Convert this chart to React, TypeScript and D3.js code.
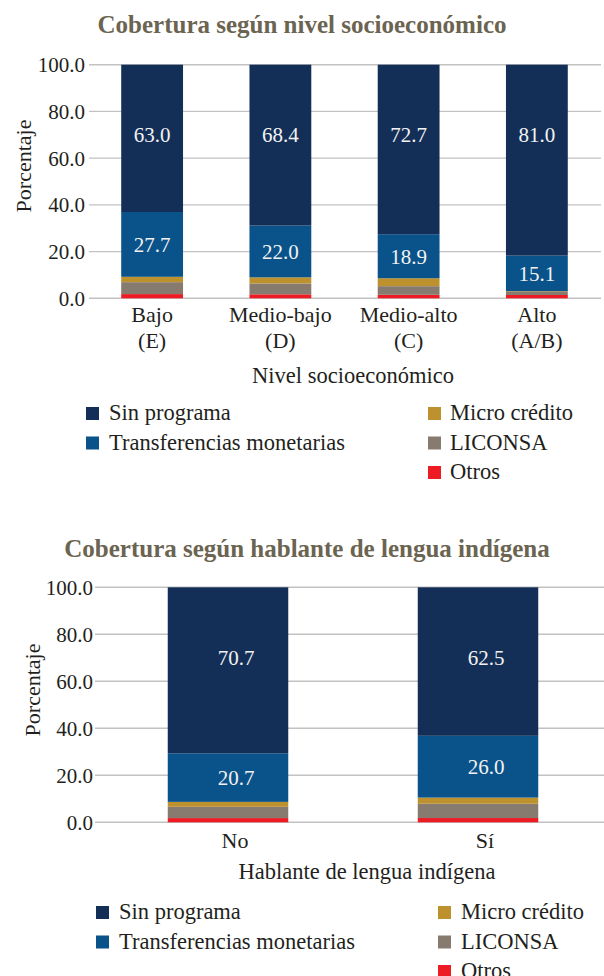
import React from 'react';
import * as d3 from 'd3';

// ---------- data ----------
const seriesKeys = ['otros', 'liconsa', 'micro', 'transfer', 'sin'];
const seriesLabels: Record<string, string> = {
  sin: 'Sin programa',
  transfer: 'Transferencias monetarias',
  micro: 'Micro crédito',
  liconsa: 'LICONSA',
  otros: 'Otros',
};
const seriesColors: Record<string, string> = {
  sin: '#142f57',
  transfer: '#0a528a',
  micro: '#be912f',
  liconsa: '#877b70',
  otros: '#ed1c24',
};

const nseCategories = [['Bajo', '(E)'], ['Medio-bajo', '(D)'], ['Medio-alto', '(C)'], ['Alto', '(A/B)']];
const nseSinPrograma = [63.0, 68.4, 72.7, 81.0];
const nseTransferencias = [27.7, 22.0, 18.9, 15.1];
const nseMicroCredito = [2.3, 2.6, 3.4, 0.3];
const nseLiconsa = [5.1, 4.6, 3.7, 1.3];
const nseOtros = [1.8, 1.7, 1.5, 1.4];

const hliCategories = [['No'], ['Sí']];
const hliSinPrograma = [70.7, 62.5];
const hliTransferencias = [20.7, 26.0];
const hliMicroCredito = [2.1, 2.6];
const hliLiconsa = [4.8, 6.0];
const hliOtros = [1.8, 1.8];

const yTicks = [0, 20, 40, 60, 80, 100];
const labeledKeys = ['sin', 'transfer'];

const FONT = '"Liberation Serif", "Times New Roman", serif';

type Row = { cat: string; [k: string]: any };

function buildRows(cats: string[][], sin: number[], tr: number[], mi: number[], li: number[], ot: number[]): Row[] {
  return cats.map((c, i) => ({ cat: c.join(' '), lines: c, sin: sin[i], transfer: tr[i], micro: mi[i], liconsa: li[i], otros: ot[i] }));
}

type ChartProps = {
  title: string; titleX: number; titleY: number;
  rows: Row[];
  xRange: [number, number]; yRange: [number, number];
  gridX1: number; gridX2: number; tickX: number;
  yTitleX: number; yTitleY: number;
  catY: number; catDx: number; labelDx: number;
  xTitle: string; xTitleX: number; xTitleY: number;
  legLeftX: number; legRightX: number; legTextGapL: number; legTextGapR: number; legRowsY: number[];
};

function StackedChart(p: ChartProps) {
  const x = d3.scaleBand<string>().domain(p.rows.map(r => r.cat)).range(p.xRange).paddingInner(0.518).paddingOuter(0.259);
  const y = d3.scaleLinear().domain([0, 100]).range(p.yRange);
  const stack = d3.stack<Row>().keys(seriesKeys).offset(d3.stackOffsetExpand);
  const layers = stack(p.rows);
  const leftLeg = ['sin', 'transfer'];
  const rightLeg = ['micro', 'liconsa', 'otros'];
  return (
    <g fontFamily={FONT}>
      <text x={p.titleX} y={p.titleY} textAnchor="middle" fontSize={25} fontWeight="bold" fill="#6b6451">{p.title}</text>
      {yTicks.map(t => (
        <g key={t}>
          <line x1={p.gridX1} x2={p.gridX2} y1={y(t)} y2={y(t)} stroke="#c2c2c2" strokeWidth={1.4} />
          <text x={p.tickX} y={y(t) + 7.5} textAnchor="end" fontSize={21} fill="#231f20">{d3.format('.1f')(t)}</text>
        </g>
      ))}
      <text transform={`translate(${p.yTitleX},${p.yTitleY}) rotate(-90)`} textAnchor="middle" dominantBaseline="central" fontSize={22} fill="#231f20">Porcentaje</text>
      {layers.map(layer => (
        <g key={layer.key} fill={seriesColors[layer.key]}>
          {layer.map((d, i) => (
            <rect key={i} x={x(p.rows[i].cat)} width={x.bandwidth()} y={y(d[1] * 100)} height={Math.max(0, y(d[0] * 100) - y(d[1] * 100))} />
          ))}
        </g>
      ))}
      {layers.filter(l => labeledKeys.includes(l.key)).map(layer => (
        <g key={'lab' + layer.key}>
          {layer.map((d, i) => {
            const cx = (x(p.rows[i].cat) as number) + x.bandwidth() / 2 + p.labelDx;
            const v = layer.key === 'sin' ? 0.70 : (d[0] + d[1]) / 2;
            return (
              <text key={i} x={cx} y={y(v * 100)} dy="0.35em" textAnchor="middle" fontSize={21} fill="#f2f2f2">
                {d3.format('.1f')(p.rows[i][layer.key])}
              </text>
            );
          })}
        </g>
      ))}
      {p.rows.map(r => (
        <text key={r.cat} textAnchor="middle" fontSize={22} fill="#231f20">
          {r.lines.map((ln: string, j: number) => (
            <tspan key={j} x={(x(r.cat) as number) + x.bandwidth() / 2 + p.catDx} y={p.catY + j * 26}>{ln}</tspan>
          ))}
        </text>
      ))}
      <text x={p.xTitleX} y={p.xTitleY} textAnchor="middle" fontSize={22.5} fill="#231f20">{p.xTitle}</text>
      {leftLeg.map((k, i) => (
        <g key={k}>
          <rect x={p.legLeftX} y={p.legRowsY[i]} width={13} height={13} fill={seriesColors[k]} />
          <text x={p.legLeftX + p.legTextGapL} y={p.legRowsY[i] + 13} fontSize={22.5} fill="#231f20">{seriesLabels[k]}</text>
        </g>
      ))}
      {rightLeg.map((k, i) => (
        <g key={k}>
          <rect x={p.legRightX} y={p.legRowsY[i]} width={13} height={13} fill={seriesColors[k]} />
          <text x={p.legRightX + p.legTextGapR} y={p.legRowsY[i] + 13} fontSize={22.5} fill="#231f20">{seriesLabels[k]}</text>
        </g>
      ))}
    </g>
  );
}

export default function App() {
  const nseRows = buildRows(nseCategories, nseSinPrograma, nseTransferencias, nseMicroCredito, nseLiconsa, nseOtros);
  const hliRows = buildRows(hliCategories, hliSinPrograma, hliTransferencias, hliMicroCredito, hliLiconsa, hliOtros);
  return (
    <svg width={604} height={976} style={{ position: 'absolute', left: 0, top: 0, background: '#fff' }}>
      <StackedChart
        title="Cobertura según nivel socioeconómico" titleX={302} titleY={33}
        rows={nseRows} xRange={[88, 601]} yRange={[298.3, 64.7]}
        gridX1={89} gridX2={601} tickX={85}
        yTitleX={23} yTitleY={166}
        catY={322} catDx={0} labelDx={0}
        xTitle="Nivel socioeconómico" xTitleX={353} xTitleY={383}
        legLeftX={86} legRightX={428} legTextGapL={23} legTextGapR={22} legRowsY={[407, 436.5, 466]}
      />
      <StackedChart
        title="Cobertura según hablante de lengua indígena" titleX={307} titleY={557}
        rows={hliRows} xRange={[103, 603]} yRange={[822.3, 587.3]}
        gridX1={95} gridX2={604} tickX={93}
        yTitleX={32} yTitleY={690}
        catY={847.5} catDx={7} labelDx={8}
        xTitle="Hablante de lengua indígena" xTitleX={367} xTitleY={879}
        legLeftX={96} legRightX={438} legTextGapL={23} legTextGapR={23} legRowsY={[906, 935.5, 965]}
      />
    </svg>
  );
}
